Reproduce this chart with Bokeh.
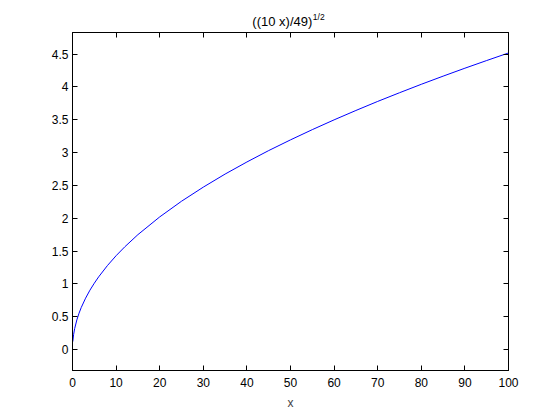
from bokeh.plotting import figure
from bokeh.layouts import column
from bokeh.models import Range1d, FixedTicker, LinearAxis, Label, CustomJSTickFormatter
from bokeh.embed import file_html
from bokeh.resources import INLINE

# values
x_vals = [0.07, 0.25, 0.5, 1, 1.5, 2, 3, 4, 5, 6, 8, 10, 12, 15, 20, 25, 30, 35, 40,
          45, 50, 55, 60, 65, 70, 75, 80, 85, 90, 95, 100]
y_vals = [0.12, 0.226, 0.319, 0.452, 0.553, 0.639, 0.782, 0.904, 1.010, 1.107, 1.278,
          1.429, 1.565, 1.750, 2.020, 2.259, 2.474, 2.673, 2.857, 3.031, 3.194, 3.350,
          3.499, 3.642, 3.780, 3.912, 4.041, 4.165, 4.286, 4.403, 4.518]
x_ticks = [0, 10, 20, 30, 40, 50, 60, 70, 80, 90, 100]
y_ticks = [0, 0.5, 1, 1.5, 2, 2.5, 3, 3.5, 4, 4.5]
title_main = "((10 x)/49)"
title_sup = "1/2"
x_label = "x"

FONT = "Liberation Sans"
FS = "12px"

# title strip
t = figure(width=552, height=32, output_backend="svg", toolbar_location=None,
           x_range=Range1d(0, 100), y_range=Range1d(0, 32),
           x_axis_type=None, y_axis_type=None,
           min_border_left=72, min_border_right=44, min_border_top=0, min_border_bottom=0)
t.xgrid.visible = False
t.ygrid.visible = False
t.outline_line_color = None
t.border_fill_color = "white"
t.add_layout(Label(x=55, y=11.5, text=title_main, text_font=FONT, text_font_size="13px",
                   text_align="right", text_baseline="alphabetic", text_color="black"))
t.add_layout(Label(x=55, y=16, x_offset=0.5, text=title_sup, text_font=FONT,
                   text_font_size="8.5px", text_align="left", text_baseline="alphabetic",
                   text_color="black"))

p = figure(width=552, height=380, output_backend="svg", toolbar_location=None,
           x_range=Range1d(0, 100), y_range=Range1d(-0.32, 4.83),
           min_border_left=72, min_border_right=44, min_border_top=0, min_border_bottom=38)
p.xgrid.visible = False
p.ygrid.visible = False
p.outline_line_color = "black"
p.outline_line_width = 1
p.background_fill_color = "white"
p.border_fill_color = "white"

p.line(x_vals, y_vals, line_color="#0000ff", line_width=1)

def style(ax, ticks, show_labels):
    ax.ticker = FixedTicker(ticks=ticks)
    ax.major_tick_in = 5
    ax.major_tick_out = 0
    ax.minor_tick_line_color = None
    ax.axis_line_color = "black"
    ax.major_tick_line_color = "black"
    ax.major_label_text_font = FONT
    ax.major_label_text_color = "black"
    ax.major_label_text_font_size = FS
    if not show_labels:
        ax.formatter = CustomJSTickFormatter(code="return '';")
        ax.major_label_standoff = 0

style(p.xaxis[0], x_ticks, True)
style(p.yaxis[0], y_ticks, True)
p.xaxis[0].major_label_standoff = 7
p.yaxis[0].major_label_standoff = 4
p.xaxis[0].axis_label = x_label
p.xaxis[0].axis_label_text_font = FONT
p.xaxis[0].axis_label_text_font_size = FS
p.xaxis[0].axis_label_text_font_style = "normal"
p.xaxis[0].axis_label_standoff = 6

top = LinearAxis()
style(top, x_ticks, False)
p.add_layout(top, "above")
right = LinearAxis()
style(right, y_ticks, False)
p.add_layout(right, "right")

layout = column(t, p, spacing=0)
open("out.html", "w").write(file_html(layout, INLINE))
